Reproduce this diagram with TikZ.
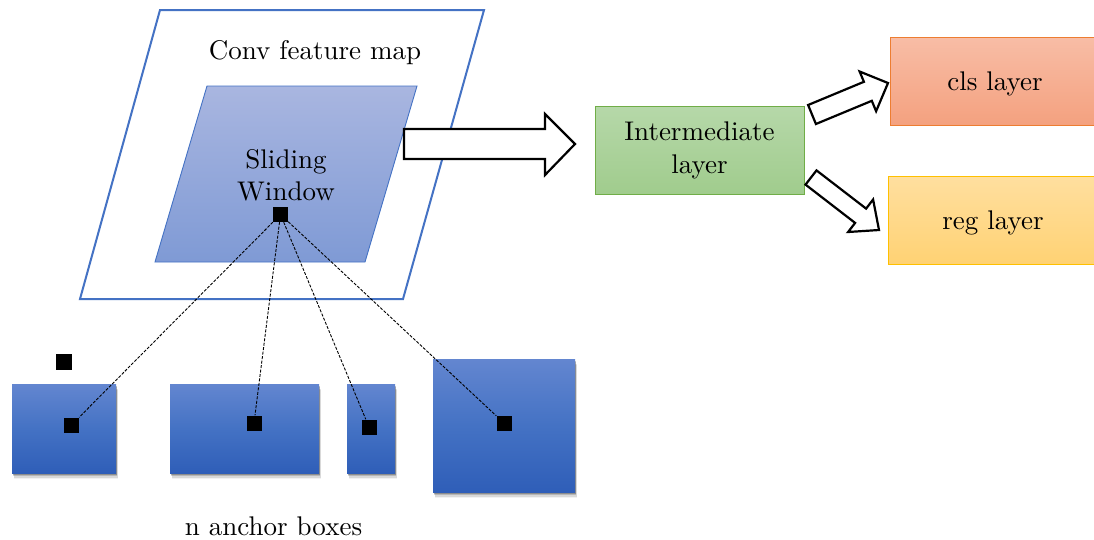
\documentclass[tikz,border=0pt]{standalone}
\usepackage{fontspec}
\setmainfont{lmroman10-regular.otf}
\usetikzlibrary{shadows}
\definecolor{blueline}{HTML}{4472C4}
\definecolor{swtop}{HTML}{A9B6E0}
\definecolor{swbot}{HTML}{7F9AD5}
\definecolor{anctop}{HTML}{6386D0}
\definecolor{ancmid}{HTML}{4472C4}
\definecolor{ancbot}{HTML}{2F5EB8}
\definecolor{grtop}{HTML}{B6D8A9}
\definecolor{grbot}{HTML}{A0CC8D}
\definecolor{grline}{HTML}{70AD47}
\definecolor{cltop}{HTML}{F8BDA6}
\definecolor{clbot}{HTML}{F4A17F}
\definecolor{clline}{HTML}{ED7D31}
\definecolor{rgtop}{HTML}{FFDF9F}
\definecolor{rgbot}{HTML}{FFD274}
\definecolor{rgline}{HTML}{FFC000}
\tikzset{
  lbl/.style={font=\fontsize{27}{33}\selectfont, inner sep=0pt},
  layerbox/.style={rectangle, minimum height=88pt, inner sep=0pt, line width=1pt,
    font=\fontsize{27}{33}\selectfont, align=center},
  anchorbox/.style={rectangle, inner sep=0pt, top color=anctop, bottom color=ancbot, middle color=ancmid,
    drop shadow={shadow xshift=0.5pt, shadow yshift=-1.5pt, fill=black, opacity=0.22},
    drop shadow={shadow xshift=1pt, shadow yshift=-3pt, fill=black, opacity=0.16},
    drop shadow={shadow xshift=1.5pt, shadow yshift=-4.5pt, fill=black, opacity=0.10},
    drop shadow={shadow xshift=2pt, shadow yshift=-6pt, fill=black, opacity=0.05}},
  pt/.style={rectangle, fill=black, minimum size=15pt, inner sep=0pt},
  link/.style={line width=0.9pt, dash pattern=on 3pt off 1.5pt},
  blockarrow/.style={fill=white, draw=black, line width=2.2pt, line join=miter},
}
\begin{document}
\begin{tikzpicture}[x=1pt,y=-1pt]
\useasboundingbox (0,0) rectangle (1094,539);
\fill[white] (0,0) rectangle (1094,539);

% conv feature map
\draw[blueline, line width=2pt] (160,10) -- (484,10) -- (403,299) -- (80,299) -- cycle;
\shade[top color=swtop, bottom color=swbot] (207,86) -- (417,86) -- (365,262) -- (155,262) -- cycle;
\draw[blueline, line width=0.9pt] (207,86) -- (417,86) -- (365,262) -- (155,262) -- cycle;
\node[lbl, anchor=base] (convt) at (315,59) {Conv feature map};
\node[lbl, anchor=base] (sw1) at (286,168) {Sliding};
\node[lbl, anchor=base] (sw2) at (286,200) {Window};

% big block arrow
\draw[blockarrow] (404,129) -- (545,129) -- (545,114) -- (575,144) -- (545,175) -- (545,159) -- (404,159) -- cycle;

% layer boxes
\node[layerbox, minimum width=209pt, top color=grtop, bottom color=grbot, draw=grline] (inter) at (699.5,150) {Intermediate\\layer};
\node[layerbox, minimum width=210pt, top color=cltop, bottom color=clbot, draw=clline, text depth=0pt] (cls) at (995,81) {cls layer};
\node[layerbox, minimum width=210pt, top color=rgtop, bottom color=rgbot, draw=rgline, text depth=0pt] (reg) at (993,220) {reg layer};

% small block arrows
\draw[blockarrow] (808.1,105.0) -- (863.9,81.8) -- (859.6,71.5) -- (888.0,83.0) -- (876.1,111.2) -- (871.8,100.8) -- (815.9,124.0) -- cycle;
\draw[blockarrow] (816.5,170.4) -- (866.1,208.6) -- (873.1,199.5) -- (879.0,230.0) -- (848.1,232.0) -- (855.1,222.9) -- (805.5,184.6) -- cycle;

% anchor boxes
\node[anchorbox, minimum width=104pt, minimum height=89pt] (b1) at (64,428.5) {};
\node[anchorbox, minimum width=149pt, minimum height=89pt] (b2) at (244.5,428.5) {};
\node[anchorbox, minimum width=48pt, minimum height=89pt] (b3) at (371,428.5) {};
\node[anchorbox, minimum width=142pt, minimum height=133pt] (b4) at (504,425.5) {};

% points
\node[pt] (s0) at (280.5,214.5) {};
\node[pt, minimum size=16pt] (sx) at (64,362) {};
\node[pt] (s1) at (71.5,425) {};
\node[pt] (s2) at (254,423) {};
\node[pt] (s3) at (369,427) {};
\node[pt] (s4) at (504,423) {};

\draw[link] (s0) -- (s1);
\draw[link] (s0) -- (s2);
\draw[link] (s0) -- (s3);
\draw[link] (s0) -- (s4);

\node[lbl, anchor=base] (nab) at (273.5,535) {n anchor boxes};
\end{tikzpicture}
\end{document}
